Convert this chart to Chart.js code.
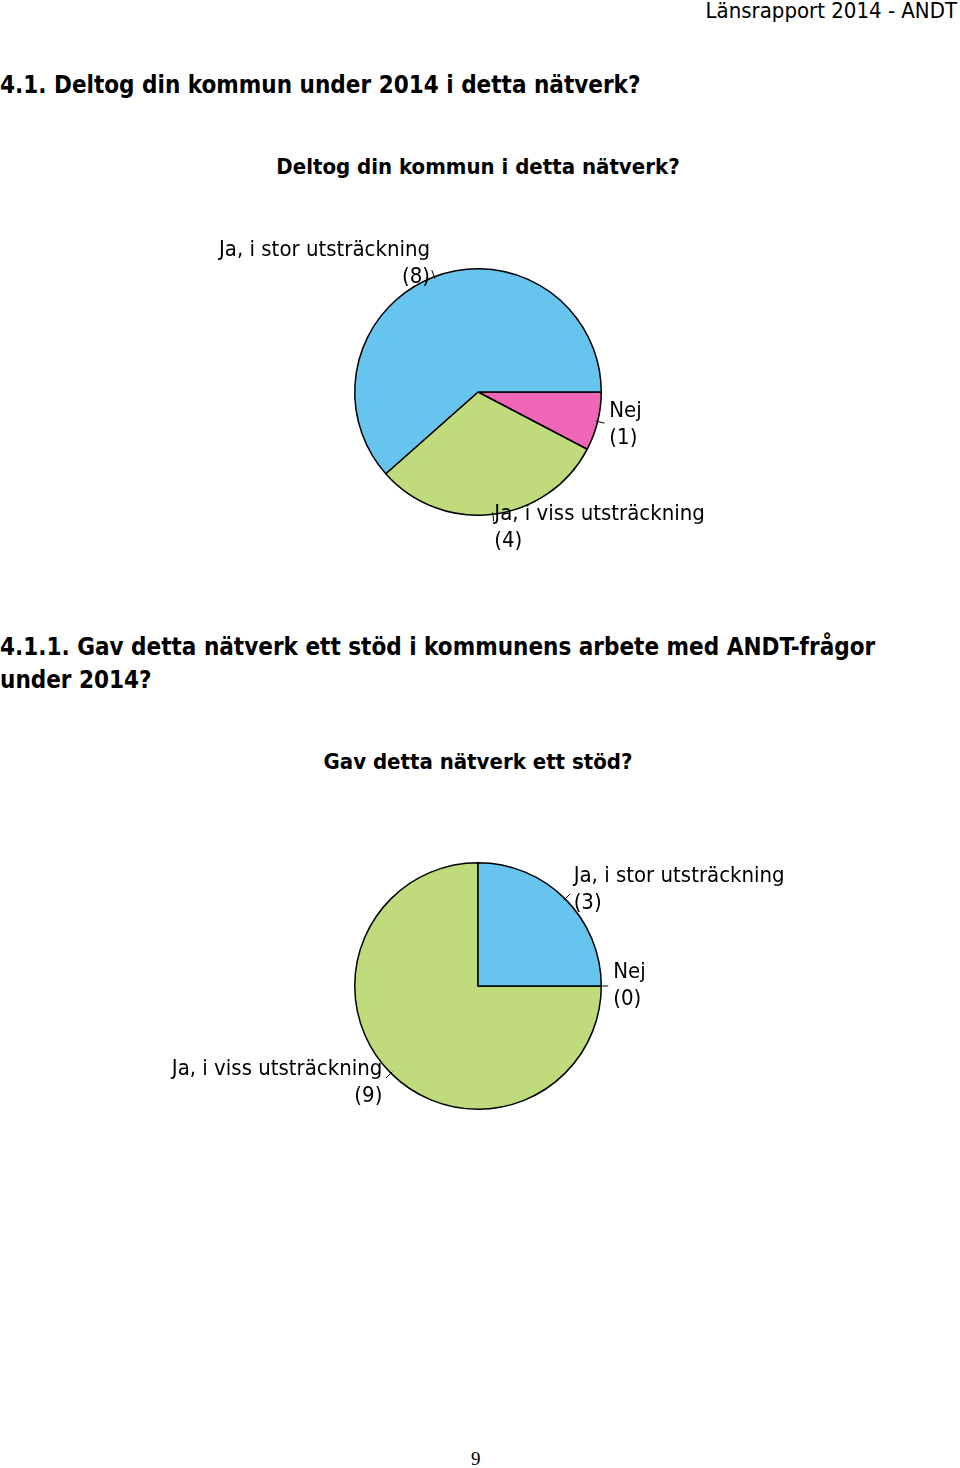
<!DOCTYPE html>
<html>
<head>
<meta charset="utf-8">
<script src="https://cdn.jsdelivr.net/npm/chart.js@4"></script>
<style>
  body { margin: 0; background: #fff; width: 960px; height: 1468px; position: relative; overflow: hidden;
         font-family: "DejaVu Sans Condensed", "DejaVu Sans", sans-serif; color: #000; }
  .t { position: absolute; white-space: nowrap; line-height: 1; }
  .h { font-weight: bold; font-size: 24px; }
  .ct { font-weight: bold; font-size: 22px; width: 960px; text-align: center; left: -2px; }
  canvas { position: absolute; left: 0; }
</style>
</head>
<body>
<div class="t" style="right:3px; top:0px; font-size:22px;">Länsrapport 2014 - ANDT</div>
<div class="t h" style="left:0; top:73px;">4.1. Deltog din kommun under 2014 i detta nätverk?</div>
<div class="t ct" style="top:156px;">Deltog din kommun i detta nätverk?</div>
<div class="t h" style="left:0; top:631px; line-height:33px;">4.1.1. Gav detta nätverk ett stöd i kommunens arbete med ANDT-frågor<br>under 2014?</div>
<div class="t ct" style="top:751px;">Gav detta nätverk ett stöd?</div>
<div class="t" style="left:471px; top:1449px; font-family:'Liberation Serif', serif; font-size:19px;">9</div>

<canvas id="pie1" width="960" height="400" style="top:192px;"></canvas>
<canvas id="pie2" width="960" height="400" style="top:786px;"></canvas>

<script>
// order is clockwise from 3 o'clock
const categories = ['Nej', 'Ja, i viss utsträckning', 'Ja, i stor utsträckning'];
const deltogValues = [1, 4, 8];
const stodValues = [0, 9, 3];
const sliceColors = ['#f066b6', '#bfdb7b', '#66c4ee'];

// labels outside the slices, like the original report
const outsideLabels = {
  id: 'outsideLabels',
  afterDatasetsDraw(chart) {
    const ctx = chart.ctx;
    const meta = chart.getDatasetMeta(0);
    const data = chart.data.datasets[0].data;
    ctx.save();
    ctx.font = '22px "DejaVu Sans Condensed", "DejaVu Sans", sans-serif';
    ctx.fillStyle = '#000';
    ctx.strokeStyle = '#000';
    ctx.lineWidth = 1;
    ctx.textBaseline = 'middle';
    meta.data.forEach((arc, i) => {
      const p = arc.getProps(['x', 'y', 'startAngle', 'endAngle', 'outerRadius'], true);
      const mid = (p.startAngle + p.endAngle) / 2;
      const c = Math.cos(mid), s = Math.sin(mid);
      const ax = p.x + p.outerRadius * c;
      const ay = p.y + p.outerRadius * s;
      // short leader line
      ctx.beginPath();
      ctx.moveTo(ax - 2 * c, ay - 2 * s);
      ctx.lineTo(ax + 7 * c, ay + 7 * s);
      ctx.stroke();
      const tx = ax + 12 * c;
      const cy = ay + 13.5 * s;
      ctx.textAlign = c >= 0 ? 'left' : 'right';
      ctx.fillText(chart.data.labels[i], tx, cy - 13.5);
      ctx.fillText('(' + data[i] + ')', tx, cy + 13.5);
    });
    ctx.restore();
  }
};

function makePie(id, values) {
  return new Chart(document.getElementById(id), {
    type: 'pie',
    data: {
      labels: categories,
      datasets: [{
        data: values,
        backgroundColor: sliceColors,
        borderColor: '#000',
        borderWidth: 1.5
      }]
    },
    options: {
      responsive: false,
      animation: false,
      rotation: 90,
      layout: { padding: { top: 76, bottom: 76, left: 0, right: 4 } },
      plugins: { legend: { display: false }, tooltip: { enabled: false } }
    },
    plugins: [outsideLabels]
  });
}

makePie('pie1', deltogValues);
makePie('pie2', stodValues);
</script>
</body>
</html>
